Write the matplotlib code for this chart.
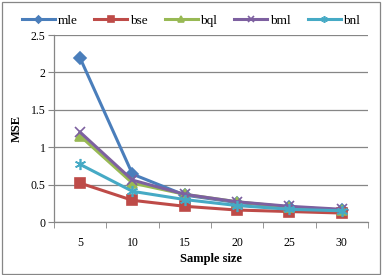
import matplotlib.pyplot as plt
from matplotlib.patches import Rectangle

sizes = ["5", "10", "15", "20", "25", "30"]
mle = [2.19, 0.64, 0.36, 0.26, 0.20, 0.16]
bse = [0.52, 0.29, 0.21, 0.16, 0.14, 0.12]
bql = [1.15, 0.52, 0.37, 0.27, 0.20, 0.16]
bml = [1.20, 0.56, 0.37, 0.27, 0.21, 0.17]
bnl = [0.77, 0.41, 0.30, 0.22, 0.17, 0.15]

plt.rcParams['font.family'] = 'Liberation Serif'

fig = plt.figure(figsize=(3.82, 2.75), dpi=100)
ax = fig.add_axes([0.1414, 0.1927, 0.8216, 0.68])

x = list(range(len(sizes)))
series = [
    ("mle", mle, "#4A7EBB", "D", 6),
    ("bse", bse, "#BE4B48", "s", 7),
    ("bql", bql, "#98B954", "^", 6.5),
    ("bml", bml, "#7D60A0", "x", 7),
    ("bnl", bnl, "#46AAC5", (6, 2, 0), 8),
]
for name, vals, col, mk, ms in series:
    ax.plot(x, vals, color=col, lw=2.2, marker=mk, ms=ms, mew=1.2,
            mfc=col, mec=col, label=name, zorder=3)

ax.set_xlim(-0.5, len(sizes) - 0.5)
ax.set_ylim(0, 2.5)
ax.set_yticks([0, 0.5, 1, 1.5, 2, 2.5])
ax.set_yticklabels(["0", "0.5", "1", "1.5", "2", "2.5"])
ax.set_xticks(x)
ax.set_xticklabels(sizes)
ax.set_xticks([i - 0.5 for i in range(len(sizes) + 1)], minor=True)
ax.tick_params(axis='x', which='major', length=0, pad=11, labelsize=8.5)
ax.tick_params(axis='x', which='minor', length=4, color='#868686', direction='out')
ax.tick_params(axis='y', length=4, color='#868686', labelsize=8.5, pad=2)
ax.grid(axis='y', color='#868686', lw=0.9)
ax.set_axisbelow(True)
for s in ['top', 'right']:
    ax.spines[s].set_visible(False)
for s in ['left', 'bottom']:
    ax.spines[s].set_color('#868686')
    ax.spines[s].set_linewidth(0.9)

ax.set_xlabel("Sample size", fontsize=9, fontweight='bold', labelpad=3)
ax.set_ylabel("MSE", fontsize=9, fontweight='bold', labelpad=6)

fig.legend(loc='center', bbox_to_anchor=(0.5, 0.925), ncol=5, frameon=False,
           fontsize=9.5, handlelength=2.5, columnspacing=1.3, handletextpad=0.2,
           markerscale=0.6)

fig.patches.append(Rectangle((0.004, 0.004), 0.99, 0.99, transform=fig.transFigure,
                             fill=False, edgecolor='#868686', lw=0.9))

fig.savefig("out.png", dpi=100)
